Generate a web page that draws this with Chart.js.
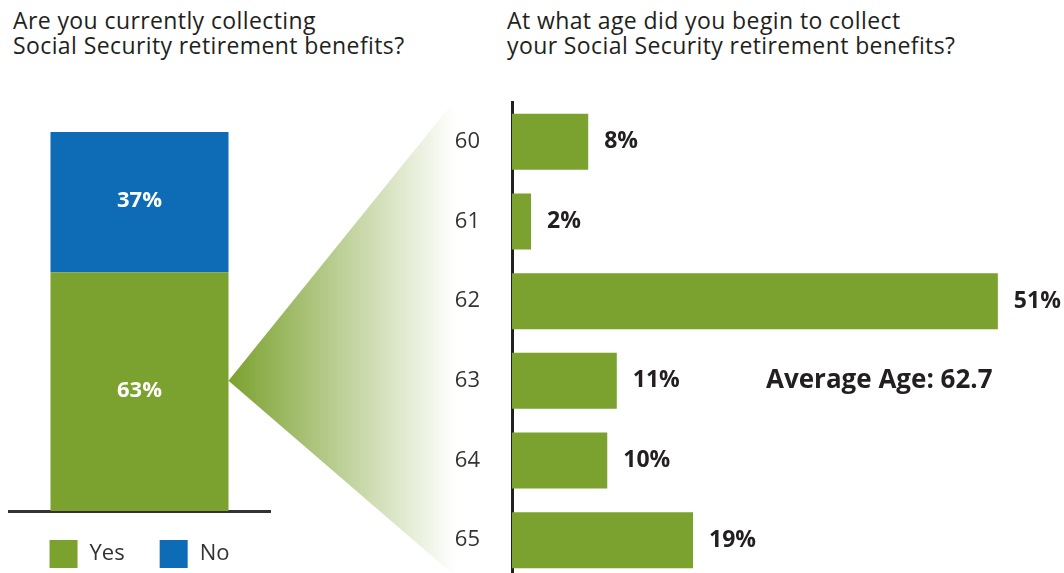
<!DOCTYPE html>
<html>
<head>
<meta charset="utf-8">
<script src="https://cdn.jsdelivr.net/npm/chart.js@4"></script>
<style>
    html, body { margin: 0; overflow: hidden; background: #fff; font-family: "Open Sans", sans-serif; }
    body { width: 1064px; height: 573px; position: relative; }
    .title { position: absolute; font-size: 23px; line-height: 25px; letter-spacing: 0.4px; color: #231f20; }
    .box { position: absolute; left: 0; top: 0; }
</style>
</head>
<body>
<div class="title" style="left:13px; top:8px;">Are you currently collecting<br>Social Security retirement benefits?</div>
<div class="title" style="left:507px; top:8px;">At what age did you begin to collect<br>your Social Security retirement benefits?</div>
<div class="box" style="width:280px; height:573px;"><canvas id="leftChart"></canvas></div>
<div class="box" style="width:1064px; height:580px;"><canvas id="rightChart"></canvas></div>
<script>
const collectingLabels = ["Yes", "No"];
const collectingValues = [63, 37];

const ages = ["60", "61", "62", "63", "64", "65"];
const ageValues = [8, 2, 51, 11, 10, 19];
const averageAge = 62.7;

const green = "#7ba12f";
const blue = "#0e6cb6";
const textColor = "#231f20";

// white % labels inside the stacked bar
const insideLabels = {
    id: "insideLabels",
    afterDatasetsDraw(chart) {
        const ctx = chart.ctx;
        ctx.save();
        ctx.font = "bold 22px 'Open Sans'";
        ctx.fillStyle = "#fff";
        ctx.textAlign = "center";
        ctx.textBaseline = "middle";
        chart.data.datasets.forEach((ds, i) => {
            const bar = chart.getDatasetMeta(i).data[0];
            ctx.fillText(ds.data[0] + "%", bar.x, (bar.y + bar.base) / 2 - 1);
        });
        ctx.restore();
    }
};

// legend under the baseline, squares + names
const bottomLegend = {
    id: "bottomLegend",
    afterDraw(chart) {
        const ctx = chart.ctx;
        const size = 28, gap = 12, spacing = 35;
        ctx.save();
        ctx.font = "22px 'Open Sans'";
        ctx.textBaseline = "middle";
        const items = chart.data.datasets.map(ds => ({ text: ds.label, color: ds.backgroundColor, w: ctx.measureText(ds.label).width }));
        const total = items.reduce((s, it) => s + size + gap + it.w, 0) + spacing * (items.length - 1);
        const bar = chart.getDatasetMeta(0).data[0];
        let x = bar.x - total / 2;
        const top = chart.chartArea.bottom + 29;
        items.forEach(it => {
            ctx.fillStyle = it.color;
            ctx.fillRect(x, top, size, size);
            ctx.fillStyle = "#333";
            ctx.fillText(it.text, x + size + gap, top + size / 2);
            x += size + gap + it.w + spacing;
        });
        ctx.restore();
    }
};

const leftChart = new Chart(document.getElementById("leftChart"), {
    type: "bar",
    data: {
        labels: [""],
        datasets: [
            { label: collectingLabels[0], data: [collectingValues[0]], backgroundColor: green },
            { label: collectingLabels[1], data: [collectingValues[1]], backgroundColor: blue },
        ]
    },
    options: {
        responsive: true,
        maintainAspectRatio: false,
        animation: false,
        layout: { padding: { top: 132, left: 9, right: 10, bottom: 54 } },
        barPercentage: 0.682,
        categoryPercentage: 1,
        scales: {
            x: {
                stacked: true,
                grid: { display: false },
                ticks: { display: false },
                border: { color: "#333", width: 3 }
            },
            y: { stacked: true, display: false, min: 0, max: 100 }
        },
        plugins: {
            tooltip: { enabled: false },
            legend: { display: false }
        }
    },
    plugins: [insideLabels, bottomLegend]
});

// gradient wedge from the Yes bar to the age chart
const wedge = {
    id: "wedge",
    beforeDatasetsDraw(chart) {
        const ctx = chart.ctx;
        const yesBar = leftChart.getDatasetMeta(0).data[0];
        const apexX = yesBar.x + yesBar.width / 2;
        const apexY = chart.scales.y.getPixelForValue(3);
        const endX = 455;
        const grad = ctx.createLinearGradient(apexX, 0, endX, 0);
        grad.addColorStop(0, "rgba(123,161,47,1)");
        grad.addColorStop(1, "rgba(123,161,47,0)");
        ctx.save();
        ctx.beginPath();
        ctx.moveTo(apexX, apexY);
        ctx.lineTo(endX, 100);
        ctx.lineTo(endX, 576);
        ctx.closePath();
        ctx.fillStyle = grad;
        ctx.fill();
        ctx.restore();
    }
};

const valueLabels = {
    id: "valueLabels",
    afterDatasetsDraw(chart) {
        const ctx = chart.ctx;
        ctx.save();
        ctx.font = "bold 23px 'Open Sans'";
        ctx.fillStyle = textColor;
        ctx.textAlign = "left";
        ctx.textBaseline = "middle";
        chart.getDatasetMeta(0).data.forEach((bar, i) => {
            ctx.fillText(ageValues[i] + "%", bar.x + 16, bar.y);
        });
        ctx.font = "bold 26px 'Open Sans'";
        ctx.fillText("Average Age: " + averageAge, 766, chart.scales.y.getPixelForValue(3));
        ctx.restore();
    }
};

new Chart(document.getElementById("rightChart"), {
    type: "bar",
    data: {
        labels: ages,
        datasets: [{ data: ageValues, backgroundColor: green }]
    },
    options: {
        indexAxis: "y",
        responsive: true,
        maintainAspectRatio: false,
        animation: false,
        layout: { padding: { top: 102, left: 0, right: 9, bottom: 0 } },
        barPercentage: 0.703,
        categoryPercentage: 1,
        scales: {
            x: { display: false, min: 0, max: 57 },
            y: {
                grid: { display: false, drawTicks: false },
                border: { color: "#231f20", width: 3 },
                ticks: {
                    padding: 32,
                    color: "#333",
                    font: { family: "Open Sans", size: 22 }
                },
                afterFit: (scale) => {
                    scale.width = 512;
                    // tick padding would otherwise eat space top and bottom
                    scale.paddingTop = 0;
                    scale.paddingBottom = 0;
                }
            }
        },
        plugins: {
            tooltip: { enabled: false },
            legend: { display: false }
        }
    },
    plugins: [wedge, valueLabels]
});
</script>
</body>
</html>
